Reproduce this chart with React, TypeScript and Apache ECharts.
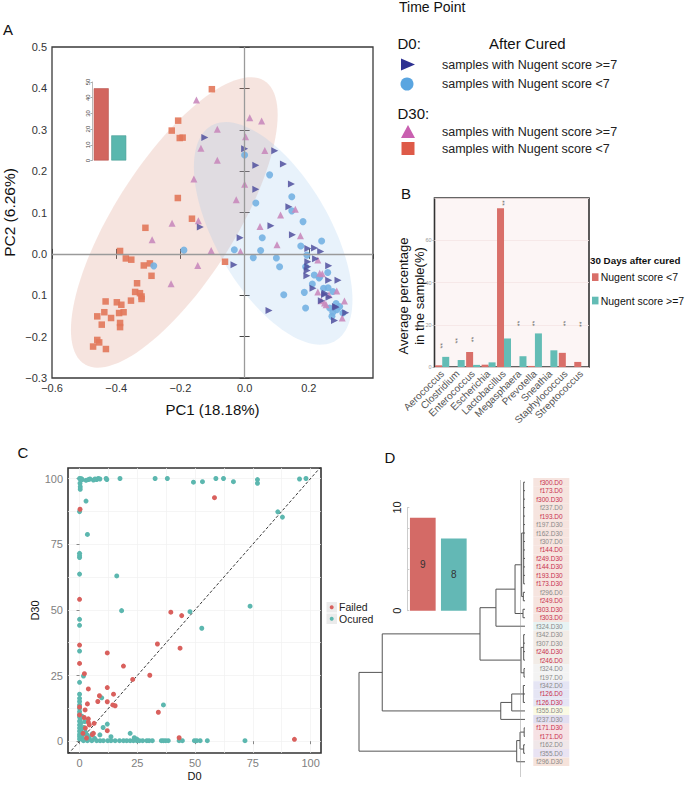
import React, { useEffect, useRef } from 'react';
import * as echarts from 'echarts';

const FONT = '"Liberation Sans", Arial, Helvetica, sans-serif';

// ---------- Panel A: PCA scores ----------
const d0Above7: number[][] = [
  [-0.124, 0.281], [0.0, 0.254], [0.094, 0.249], [0.035, 0.214], [0.121, 0.217], [0.035, 0.156],
  [0.146, 0.169], [0.138, 0.114], [0.082, 0.068], [0.149, 0.046], [-0.138, 0.065], [-0.014, 0.039],
  [0.197, 0.013], [0.218, 0.014], [0.237, 0.006], [0.221, -0.012], [-0.033, -0.026], [0.197, -0.031],
  [0.195, -0.04], [0.262, -0.029], [0.291, -0.064], [0.262, -0.064], [0.213, -0.083], [0.251, -0.095],
  [0.283, -0.127], [0.315, -0.142], [0.076, -0.137], [0.197, -0.019], [0.194, -0.053], [0.263, -0.105],
  [0.239, -0.113], [0.28, -0.161], [0.285, -0.129], [0.249, -0.098],
];
const d0Below7: number[][] = [
  [0.0, 0.239], [0.078, 0.191], [0.035, 0.123], [0.147, 0.138], [0.147, 0.104], [0.182, 0.078],
  [0.055, 0.039], [0.24, 0.031], [0.175, 0.019], [-0.189, 0.009], [-0.283, -0.029], [-0.032, 0.01],
  [0.05, 0.008], [0.027, -0.009], [0.099, -0.01], [0.109, -0.031], [0.194, -0.003], [0.19, -0.031],
  [0.217, -0.051], [0.259, -0.045], [0.234, -0.056], [0.211, -0.073], [0.246, -0.083], [0.122, -0.099],
  [0.186, -0.093], [0.19, -0.131], [0.275, -0.091], [0.296, -0.127], [0.275, -0.141], [0.265, -0.131],
  [0.272, -0.151], [0.287, -0.135], [0.306, -0.143], [0.26, -0.082], [0.232, -0.058], [0.285, -0.12],
];
const d30Above7: number[][] = [
  [-0.15, 0.372], [-0.085, 0.301], [-0.136, 0.255], [-0.085, 0.226], [0.016, 0.329], [0.053, 0.321],
  [0.003, 0.283], [0.063, 0.25], [-0.158, 0.181], [0.0, 0.168], [-0.026, 0.131], [-0.144, 0.08],
  [-0.226, 0.074], [-0.288, 0.034], [-0.104, 0.008], [-0.013, 0.006], [-0.146, -0.028], [-0.229, -0.072],
  [0.048, 0.066], [0.101, 0.022], [0.112, 0.094], [0.158, 0.108], [0.174, 0.044], [0.228, -0.015],
  [0.242, -0.048], [0.228, -0.092], [0.263, -0.099], [0.287, -0.09], [0.239, -0.113], [0.254, -0.123],
  [0.311, -0.114], [0.304, -0.155], [0.234, -0.047], [0.249, -0.119],
];
const d30Below7: number[][] = [
  [-0.102, 0.398], [-0.207, 0.322], [-0.227, 0.298], [-0.202, 0.28], [-0.193, 0.281], [-0.208, 0.135],
  [-0.164, 0.085], [-0.309, 0.063], [-0.388, 0.007], [-0.37, -0.011], [-0.353, -0.014], [-0.314, -0.028],
  [-0.295, -0.023], [-0.29, -0.053], [-0.061, -0.019], [-0.335, -0.071], [-0.341, -0.092], [-0.326, -0.095],
  [-0.321, -0.103], [-0.321, -0.109], [-0.354, -0.113], [-0.433, -0.115], [-0.398, -0.117], [-0.384, -0.123],
  [-0.437, -0.141], [-0.391, -0.143], [-0.377, -0.141], [-0.459, -0.151], [-0.416, -0.155], [-0.445, -0.171],
  [-0.388, -0.167], [-0.388, -0.177], [-0.459, -0.208], [-0.453, -0.214], [-0.472, -0.224], [-0.432, -0.23],
];
// confidence ellipses: [centre x, centre y, half-extent x, half-extent y, correlation]
const ellipseD30 = [-0.219, 0.076, 0.322, 0.351, 0.74];
const ellipseD0 = [0.089, 0.0495, 0.247, 0.269, -0.596];
const ellipseFills = ['rgba(220,150,130,0.26)', 'rgba(140,190,235,0.2)'];

const insetACategories = ['Nugent score <7', 'Nugent score >=7'];
const insetAValues = [46, 16];

// ---------- Panel B: genera ----------
const genera = ['Aerococcus', 'Clostridium', 'Enterococcus', 'Escherichia', 'Lactobacillus',
  'Megasphaera', 'Prevotella', 'Sneathia', 'Staphylococcus', 'Streptococcus'];
const nugentBelow7 = [0.8, 0, 7.1, 1.1, 75.2, 0, 0.5, 0, 6.7, 2.4];
const nugentAbove7 = [4.8, 3.3, 1.0, 2.2, 13.5, 5.1, 15.9, 7.9, 0, 0];
const significance: (string | number)[][] = [
  ['Aerococcus', 10], ['Clostridium', 12.4], ['Enterococcus', 13], ['Lactobacillus', 77.6],
  ['Megasphaera', 20.6], ['Prevotella', 20.6], ['Staphylococcus', 20.6], ['Streptococcus', 20.2],
];

// ---------- Panel C: D0 vs D30 ----------
const failedPoints: number[][] = [
  [58.4, 92.7], [0.2, 88.3], [0, 54], [39.5, 49.1], [44.2, 47.8], [33.7, 37], [43.5, 35.4], [12, 33.6],
  [0, 36.6], [0, 29.6], [19, 28.6], [30.4, 25.1], [2.1, 25.7], [23, 23.5], [12, 20.4], [3.8, 19.9],
  [8.6, 17.3], [14.7, 17.9], [7.9, 15.1], [12, 15], [14.4, 13.8], [15.4, 13.5], [3.4, 14.2], [2.4, 11.9],
  [34.1, 11], [3.8, 8.5], [3.8, 7.2], [6.3, 6.8], [4.2, 6.2], [12, 4], [6, 3], [43.1, 1.3], [93, 0.7],
  [2.5, 5], [1.5, 3], [5.5, 2.5], [3, 1.2], [0, 13], [0, 10], [2, 9],
];
const ocuredPoints: number[][] = [
  [0, 100], [0.5, 99.8], [0.8, 99.9], [1.2, 99.6], [2.8, 99.3], [3.8, 99.6], [4.5, 99.8], [6, 99.4],
  [6.7, 99.8], [7.4, 99.6], [8.1, 100], [8.8, 99.8], [11.5, 100], [11.8, 99.6], [17.5, 100], [32.7, 100],
  [38, 100], [49.3, 98.6], [53.2, 98.8], [59, 100], [62.3, 100], [66.6, 98.8], [77, 99.6], [77, 98.2],
  [95.2, 99.8], [98, 100],
  [0.2, 98.2], [0.3, 96.9], [0.3, 95.9], [0, 87.4], [2.8, 91.4], [3.4, 78.7], [0, 71.5], [0, 70.6],
  [0, 69.9], [0, 63.6], [16.1, 62.9], [18.2, 49.7], [0, 46.4], [0, 44.1], [0, 34.3], [1.7, 24.8],
  [0, 22.4], [0, 17.9], [0, 16.3], [0, 15.1], [0, 13.8], [0, 12.5], [0, 11.2], [9.6, 16.5], [0, 10.1],
  [0, 9.2], [0.3, 8.4], [0, 7.6], [0.6, 6.9], [0, 6.2], [0.4, 5.6], [0, 5], [0.8, 4.4], [0, 3.8],
  [0.5, 3.2], [0, 2.6], [1.2, 2.2], [0, 1.8], [0.6, 1.3], [0, 0.8], [1.5, 0.6], [2.2, 7.5], [1.8, 5.2],
  [2.6, 3.4], [3.4, 2.3], [4.2, 1.2], [5.5, 2.8], [1, 9.5], [12, 6.5], [10.2, 5.2], [21.9, 3], [6.5, 1.1],
  [8.8, 2.4], [13.6, 1.7], [23.7, 1.3], [24.8, 0.8],
  [85.8, 87.3], [87.8, 85.3], [73.8, 51.4], [47.8, 49.3], [52.9, 43], [36.3, 13.8],
  [1.7, 0.2], [3.4, 0.2], [5.3, 0.2], [7.4, 0.2], [8.9, 0.2], [10.3, 0.2], [12.2, 0.2], [13.6, 0.2],
  [15.4, 0.2], [17.3, 0.2], [19, 0.2], [20.4, 0.2], [21.9, 0.2], [23.3, 0.2], [24.8, 0.2], [25.9, 0.2],
  [27.3, 0.2], [29.1, 0.2], [30.1, 0.2], [31.5, 0.2], [35.4, 0.2], [36.3, 0.2], [37.3, 0.2], [38.4, 0.2],
  [43.1, 0.2], [44.5, 0.2], [49.7, 0.2], [50.7, 0.2], [52.2, 0.2], [55.3, 0.2], [71.6, 0.2],
];
const scatterTicks = [0, 25, 50, 75, 100];
const scatterGridValues = [0, 12.5, 25, 37.5, 50, 62.5, 75, 87.5, 100];
const diagonalRange = [-5, 105];

// ---------- Panel D: clustering ----------
const clusterCategories = ['Failed', 'Ocured'];
const clusterCounts = [9, 7];
const clusterCountLabels = ['9', '8'];
const leafLabels = [
  'f300.D0', 'f173.D0', 'f300.D30', 'f237.D0', 'f193.D0', 'f197.D30', 'f162.D30', 'f307.D0', 'f144.D0',
  'f249.D30', 'f144.D30', 'f193.D30', 'f173.D30', 'f296.D0', 'f249.D0', 'f303.D30', 'f303.D0', 'f324.D30',
  'f342.D30', 'f307.D30', 'f246.D30', 'f246.D0', 'f324.D0', 'f197.D0', 'f342.D0', 'f126.D0', 'f126.D30',
  'f355.D30', 'f237.D30', 'f171.D30', 'f171.D0', 'f162.D0', 'f355.D0', 'f296.D30',
];
const leafFailed = [1, 1, 1, 0, 1, 0, 0, 0, 1, 1, 1, 1, 1, 0, 1, 1, 1, 0, 0, 0, 1, 1, 0, 0, 0, 1, 1, 0, 0, 1, 1, 0, 0, 0];
const leafBand = [0, 0, 0, 0, 0, 0, 0, 0, 0, 0, 0, 0, 0, 0, 0, 0, 0, 1, 2, 2, 2, 2, 3, 3, 4, 4, 4, 5, 6, 7, 7, 8, 9, 10];
const bandColors = ['#f6e4df', '#e7f3f3', '#f2ece7', '#f3f3f3', '#e5e5f4', '#fafae4', '#e2def0',
  '#f6e1e4', '#f0e7e9', '#e9e3f3', '#f6e3db'];
// merge tree: [height, ...children]; leaves are row indexes
const dendrogram: any = [1.0,
  [0.86,
    [0.271,
      [0.175,
        [0.06,
          [0.02, [0.008, 0, 1, 2, 3, 4, 5, 6, 7, 8, 9, 10, 11, 12], [0.01, 13, 14]],
          [0.012, 15, 16]],
        17],
      [0.024, [0.008, 18, 19, 20, 21], [0.006, 22, 23]]],
    [0.146, [0.08, [0.01, 24, 25, 26], 27], 28]],
  [0.05, [0.03, [0.005, 29, 30], [0.008, 31, 32]], 33]];
const cutHeight = 0.034;

function layoutTree(node: any, segs: number[][]): { y: number; h: number } {
  if (typeof node === 'number') return { y: node, h: 0 };
  const [h, ...kids] = node;
  const ls = kids.map((k: any) => layoutTree(k, segs));
  const ys = ls.map((l: any) => l.y);
  const y0 = Math.min(...ys);
  const y1 = Math.max(...ys);
  segs.push([h, y0, h, y1]);
  ls.forEach((l: any) => segs.push([h, l.y, l.h, l.y]));
  return { y: (y0 + y1) / 2, h };
}

const minus = (v: number, d: number) => {
  const s = Math.abs(v).toFixed(d);
  return v < -1e-9 ? '\u2212' + s : s;
};

export default function App() {
  const ref = useRef<HTMLDivElement>(null);
  useEffect(() => {
    if (!ref.current) return;
    const chart = echarts.init(ref.current, undefined, { renderer: 'svg' });
    const segs: number[][] = [];
    layoutTree(dendrogram, segs);

    const redA = '#d2665f';
    const tealA = '#5ab7ae';
    const solid = (color: string, opacity = 1) => ({ color, opacity, borderWidth: 0 });

    const option: any = {
      animation: false,
      backgroundColor: '#ffffff',
      textStyle: { fontFamily: FONT },
      grid: [
        { left: 52, top: 47, width: 321, height: 331, show: true, borderColor: '#3a3a3a', borderWidth: 1.3, backgroundColor: 'transparent' },
        { left: 92.5, top: 82, width: 35, height: 78.5 },
        { left: 434.5, top: 198, width: 154.5, height: 169, show: true, backgroundColor: '#fcf5f5', borderColor: '#333', borderWidth: 1.6 },
        { left: 68, top: 468, width: 253, height: 285, show: true, borderColor: '#333', borderWidth: 1.6, backgroundColor: '#fff' },
        { left: 407.3, top: 507.4, width: 62, height: 103.3 },
        { left: 359, top: 480.5, width: 166, height: 296.5 },
      ],
      xAxis: [
        {
          gridIndex: 0, type: 'value', min: -0.6, max: 0.4, interval: 0.2, position: 'bottom',
          axisLine: { show: false }, splitLine: { show: false },
          axisTick: { inside: true, length: 5, lineStyle: { color: '#444' } },
          axisLabel: { formatter: (v: number) => minus(v, 1), showMaxLabel: false, fontSize: 11, color: '#333', margin: 4, fontFamily: FONT },
          name: 'PC1 (18.18%)', nameLocation: 'middle', nameGap: 24,
          nameTextStyle: { fontSize: 15, color: '#111', fontFamily: FONT },
        },
        {
          gridIndex: 0, type: 'value', min: -0.6, max: 0.4, interval: 0.2, position: 'top',
          axisLine: { show: false }, splitLine: { show: false }, axisLabel: { show: false },
          axisTick: { inside: true, length: 5, lineStyle: { color: '#444' } },
        },
        { gridIndex: 1, type: 'category', data: insetACategories, show: false },
        {
          gridIndex: 2, type: 'category', data: genera,
          axisLine: { show: false },
          axisTick: { alignWithLabel: true, length: 3, lineStyle: { color: '#999' } },
          axisLabel: { rotate: 45, fontSize: 10, color: '#555', margin: 5, interval: 0, fontFamily: FONT },
        },
        {
          gridIndex: 3, type: 'value', min: -5, max: 104.5,
          axisLine: { show: false }, splitLine: { show: false },
          axisTick: { show: true, length: 3, customValues: scatterTicks, lineStyle: { color: '#888' } },
          axisLabel: { customValues: scatterTicks, fontSize: 11, color: '#808080', margin: 4, fontFamily: FONT },
          name: 'D0', nameLocation: 'middle', nameGap: 17.5,
          nameTextStyle: { fontSize: 11, color: '#111', fontFamily: FONT },
        },
        { gridIndex: 4, type: 'category', data: clusterCategories, show: false },
        { gridIndex: 5, type: 'value', min: 0, max: 1, inverse: true, show: false },
      ],
      yAxis: [
        {
          gridIndex: 0, type: 'value', min: -0.3, max: 0.5, interval: 0.1, position: 'left',
          axisLine: { show: false }, splitLine: { show: false },
          axisTick: { inside: true, length: 5, lineStyle: { color: '#444' } },
          axisLabel: {
            formatter: (v: number) => (Math.abs(v + 0.1) < 1e-6 ? '0.1' : minus(v, 1)),
            fontSize: 11, color: '#333', margin: 5, fontFamily: FONT,
          },
          name: 'PC2 (6.26%)', nameLocation: 'middle', nameGap: 35,
          nameTextStyle: { fontSize: 15.5, color: '#111', fontFamily: FONT },
        },
        {
          gridIndex: 0, type: 'value', min: -0.3, max: 0.5, interval: 0.1, position: 'right',
          axisLine: { show: false }, splitLine: { show: false }, axisLabel: { show: false },
          axisTick: { inside: true, length: 5, lineStyle: { color: '#444' } },
        },
        {
          gridIndex: 1, type: 'value', min: 0, max: 50, interval: 10,
          axisLine: { show: true, lineStyle: { color: '#aaa', width: 0.8 } },
          axisTick: { show: true, length: 2, lineStyle: { color: '#aaa' } },
          splitLine: { show: false },
          axisLabel: { rotate: 90, fontSize: 6, color: '#444', margin: 2, fontFamily: FONT },
        },
        {
          gridIndex: 2, type: 'value', min: 0, max: 80, interval: 20,
          axisLine: { show: false },
          axisTick: { show: true, length: 2, lineStyle: { color: '#aaa' } },
          splitLine: { show: true, lineStyle: { color: '#f4e4e4', width: 0.8 } },
          axisLabel: { fontSize: 5.5, color: '#999', margin: 3, showMaxLabel: false, fontFamily: FONT },
        },
        {
          gridIndex: 3, type: 'value', min: -4.5, max: 104,
          axisLine: { show: false }, splitLine: { show: false },
          axisTick: { show: true, length: 3, customValues: scatterTicks, lineStyle: { color: '#888' } },
          axisLabel: { customValues: scatterTicks, fontSize: 11, color: '#808080', margin: 5, fontFamily: FONT },
          name: 'D30', nameLocation: 'middle', nameGap: 20,
          nameTextStyle: { fontSize: 11, color: '#111', fontFamily: FONT },
        },
        {
          gridIndex: 4, type: 'value', min: 0, max: 10, interval: 2,
          axisLine: { show: true, lineStyle: { color: '#ccc', width: 1 } },
          axisTick: { show: true, inside: true, length: 2, lineStyle: { color: '#ccc' } },
          splitLine: { show: false },
          axisLabel: {
            rotate: 90, fontSize: 11, color: '#222', margin: 5, fontFamily: FONT,
            formatter: (v: number) => (v === 0 || v === 10 ? String(v) : ''),
          },
        },
        { gridIndex: 5, type: 'value', min: -0.2, max: 34.8, inverse: true, show: false },
      ],
      series: [
        // Panel A ellipses + zero lines
        {
          type: 'custom', xAxisIndex: 0, yAxisIndex: 0, clip: true, z: 1,
          data: [ellipseD30, ellipseD0],
          renderItem: (params: any, api: any) => {
            const cx = api.value(0), cy = api.value(1), rx = api.value(2), ry = api.value(3), rho = api.value(4);
            const s = Math.sqrt(1 - rho * rho);
            const pts: number[][] = [];
            for (let k = 0; k < 120; k++) {
              const t = (k / 120) * Math.PI * 2;
              pts.push(api.coord([cx + rx * Math.cos(t), cy + ry * (rho * Math.cos(t) + s * Math.sin(t))]));
            }
            return { type: 'polygon', shape: { points: pts }, style: { fill: ellipseFills[params.dataIndex] } };
          },
          markLine: {
            silent: true, symbol: 'none', label: { show: false },
            lineStyle: { color: '#9a9a9a', width: 1.3, type: 'solid' },
            data: [{ xAxis: 0 }, { yAxis: 0 }],
          },
        },
        {
          name: 'D30 Nugent <7', type: 'scatter', xAxisIndex: 0, yAxisIndex: 0, z: 3,
          symbol: 'rect', symbolSize: 6.5, data: d30Below7,
          itemStyle: solid('#e2775a', 0.9),
        },
        {
          name: 'D0 Nugent <7', type: 'scatter', xAxisIndex: 0, yAxisIndex: 0, z: 3,
          symbol: 'circle', symbolSize: 7, data: d0Below7,
          itemStyle: solid('#74b1e2', 0.9),
        },
        {
          name: 'D30 Nugent >=7', type: 'scatter', xAxisIndex: 0, yAxisIndex: 0, z: 3,
          symbol: 'triangle', symbolSize: 7, data: d30Above7,
          itemStyle: solid('#c98abd', 0.9),
        },
        {
          name: 'D0 Nugent >=7', type: 'scatter', xAxisIndex: 0, yAxisIndex: 0, z: 3,
          symbol: 'triangle', symbolRotate: -90, symbolSize: 7, data: d0Above7,
          itemStyle: solid('#50509e', 0.85),
        },
        // Panel A inset
        {
          type: 'bar', xAxisIndex: 2, yAxisIndex: 2, barWidth: 15,
          data: insetAValues.map((v, i) => ({ value: v, itemStyle: { color: i === 0 ? redA : tealA, borderColor: i === 0 ? '#b85650' : '#4a9d95', borderWidth: 0.6 } })),
        },
        // Panel B
        {
          name: 'Nugent score <7', type: 'bar', xAxisIndex: 3, yAxisIndex: 3, barWidth: 7, barGap: '0%',
          data: nugentBelow7, itemStyle: { color: '#d96f69' },
        },
        {
          name: 'Nugent score >=7', type: 'bar', xAxisIndex: 3, yAxisIndex: 3, barWidth: 7, barGap: '0%',
          data: nugentAbove7, itemStyle: { color: '#63bcb5' },
        },
        {
          type: 'scatter', xAxisIndex: 3, yAxisIndex: 3, symbol: 'circle', symbolSize: 0.1, z: 5,
          itemStyle: { color: 'transparent', borderWidth: 0 }, data: significance,
          label: { show: true, position: 'inside', formatter: '**', rotate: 90, fontSize: 7, color: '#444', fontFamily: FONT },
        },
        // Panel C
        {
          type: 'line', xAxisIndex: 4, yAxisIndex: 4, symbol: 'none', z: 2, clip: true,
          data: [[diagonalRange[0], diagonalRange[0]], [diagonalRange[1], diagonalRange[1]]],
          lineStyle: { color: '#222', width: 0.9, type: [3, 2] },
          markLine: {
            silent: true, symbol: 'none', label: { show: false }, z: 0,
            lineStyle: { color: '#f0f0f0', width: 0.7, type: 'solid' },
            data: [
              ...scatterGridValues.map((v) => ({ xAxis: v })),
              ...scatterGridValues.map((v) => ({ yAxis: v })),
            ],
          },
        },
        {
          name: 'Ocured', type: 'scatter', xAxisIndex: 4, yAxisIndex: 4, z: 3,
          symbolSize: 5, data: ocuredPoints, itemStyle: solid('#5cb7af'),
        },
        {
          name: 'Failed', type: 'scatter', xAxisIndex: 4, yAxisIndex: 4, z: 4,
          symbolSize: 5, data: failedPoints, itemStyle: solid('#d9605d'),
        },
        // Panel D inset
        {
          type: 'bar', xAxisIndex: 5, yAxisIndex: 5, barWidth: 25.7,
          data: clusterCounts.map((v, i) => ({ value: v, itemStyle: { color: i === 0 ? '#d46a66' : '#63b8b5' } })),
          label: {
            show: true, position: 'inside', fontSize: 10, color: '#333', fontFamily: FONT,
            formatter: (p: any) => clusterCountLabels[p.dataIndex],
          },
        },
        // Panel D dendrogram
        {
          type: 'custom', xAxisIndex: 6, yAxisIndex: 6, clip: false, z: 2,
          data: segs,
          renderItem: (params: any, api: any) => {
            const a = api.coord([api.value(0), api.value(1)]);
            const b = api.coord([api.value(2), api.value(3)]);
            return {
              type: 'line', shape: { x1: a[0], y1: a[1], x2: b[0], y2: b[1] },
              style: { stroke: '#555', lineWidth: 1 },
            };
          },
          markLine: {
            silent: true, symbol: 'none', label: { show: false },
            lineStyle: { color: '#999', width: 1, type: 'dotted' },
            data: [{ xAxis: cutHeight }],
          },
        },
        {
          type: 'custom', xAxisIndex: 6, yAxisIndex: 6, clip: false, z: 1,
          data: leafLabels.map((_, i) => [0, i]),
          renderItem: (params: any, api: any) => {
            const i = params.dataIndex;
            const p = api.coord([0, i]);
            return {
              type: 'group',
              children: [
                { type: 'rect', shape: { x: p[0] + 8.3, y: p[1] - 4.3, width: 36, height: 8.6 }, style: { fill: bandColors[leafBand[i]] } },
                {
                  type: 'text',
                  style: {
                    text: leafLabels[i], x: p[0] + 37.7, y: p[1], align: 'right', verticalAlign: 'middle',
                    fill: leafFailed[i] ? '#c8304e' : '#8a8a8a', fontSize: 6.5, fontFamily: FONT,
                  },
                },
              ],
            };
          },
        },
      ],
      graphic: [
        // panel letters
        { type: 'text', x: 8, y: 29, style: { text: 'A', fontSize: 15, fill: '#111', align: 'center', verticalAlign: 'middle', fontFamily: FONT } },
        { type: 'text', x: 406, y: 193, style: { text: 'B', fontSize: 15, fill: '#111', align: 'center', verticalAlign: 'middle', fontFamily: FONT } },
        { type: 'text', x: 23, y: 452, style: { text: 'C', fontSize: 15, fill: '#111', align: 'center', verticalAlign: 'middle', fontFamily: FONT } },
        { type: 'text', x: 390, y: 457, style: { text: 'D', fontSize: 15, fill: '#111', align: 'center', verticalAlign: 'middle', fontFamily: FONT } },
        // panel A legend
        { type: 'text', x: 399, y: 7, style: { text: 'Time Point', fontSize: 14, fill: '#111', align: 'left', verticalAlign: 'middle', fontFamily: FONT } },
        { type: 'text', x: 397.5, y: 43, style: { text: 'D0:', fontSize: 15, fill: '#111', align: 'left', verticalAlign: 'middle', fontFamily: FONT } },
        { type: 'text', x: 489, y: 43, style: { text: 'After Cured', fontSize: 15, fill: '#111', align: 'left', verticalAlign: 'middle', fontFamily: FONT } },
        { type: 'polygon', shape: { points: [[401, 58.5], [415, 64.5], [401, 70.5]] }, style: { fill: '#2e3192' } },
        { type: 'text', x: 442, y: 65, style: { text: 'samples with Nugent score >=7', fontSize: 12.5, fill: '#222', align: 'left', verticalAlign: 'middle', fontFamily: FONT } },
        { type: 'circle', shape: { cx: 407, cy: 84, r: 6.5 }, style: { fill: '#5aa5e0' } },
        { type: 'text', x: 442, y: 84, style: { text: 'samples with Nugent score <7', fontSize: 12.5, fill: '#222', align: 'left', verticalAlign: 'middle', fontFamily: FONT } },
        { type: 'text', x: 397.5, y: 113, style: { text: 'D30:', fontSize: 15, fill: '#111', align: 'left', verticalAlign: 'middle', fontFamily: FONT } },
        { type: 'polygon', shape: { points: [[401, 138], [408, 125], [415, 138]] }, style: { fill: '#c960b0' } },
        { type: 'text', x: 442, y: 132, style: { text: 'samples with Nugent score >=7', fontSize: 12.5, fill: '#222', align: 'left', verticalAlign: 'middle', fontFamily: FONT } },
        { type: 'rect', shape: { x: 401.5, y: 142, width: 13, height: 13 }, style: { fill: '#de5a48' } },
        { type: 'text', x: 442, y: 148.5, style: { text: 'samples with Nugent score <7', fontSize: 12.5, fill: '#222', align: 'left', verticalAlign: 'middle', fontFamily: FONT } },
        // panel B axis title + legend
        {
          type: 'text', x: 411.5, y: 296, rotation: Math.PI / 2,
          style: { text: 'Average percentage\nin the sample(%)', fontSize: 13, lineHeight: 16, fill: '#111', align: 'center', verticalAlign: 'middle', fontFamily: FONT },
        },
        { type: 'text', x: 590, y: 260, style: { text: '30 Days after cured', fontSize: 9.8, fontWeight: 'bold', fill: '#111', align: 'left', verticalAlign: 'middle', fontFamily: FONT } },
        { type: 'rect', shape: { x: 592, y: 273.3, width: 6.5, height: 7.7 }, style: { fill: '#d96f69' } },
        { type: 'text', x: 600.7, y: 277.3, style: { text: 'Nugent score <7', fontSize: 10.5, fill: '#111', align: 'left', verticalAlign: 'middle', fontFamily: FONT } },
        { type: 'rect', shape: { x: 592, y: 296.7, width: 6.5, height: 7.7 }, style: { fill: '#63bcb5' } },
        { type: 'text', x: 600.7, y: 300.7, style: { text: 'Nugent score >=7', fontSize: 10.5, fill: '#111', align: 'left', verticalAlign: 'middle', fontFamily: FONT } },
        // panel C legend
        { type: 'rect', shape: { x: 326.5, y: 602, width: 10.5, height: 10.5 }, style: { fill: '#ebebeb' } },
        { type: 'rect', shape: { x: 326.5, y: 613.5, width: 10.5, height: 10.5 }, style: { fill: '#ebebeb' } },
        { type: 'circle', shape: { cx: 331.7, cy: 607.3, r: 2 }, style: { fill: '#d9605d' } },
        { type: 'circle', shape: { cx: 331.7, cy: 618.7, r: 2 }, style: { fill: '#5cb7af' } },
        { type: 'text', x: 339, y: 607.3, style: { text: 'Failed', fontSize: 10.5, fill: '#222', align: 'left', verticalAlign: 'middle', fontFamily: FONT } },
        { type: 'text', x: 339, y: 618.7, style: { text: 'Ocured', fontSize: 10.5, fill: '#222', align: 'left', verticalAlign: 'middle', fontFamily: FONT } },
      ],
    };
    chart.setOption(option);
    return () => chart.dispose();
  }, []);
  return <div ref={ref} style={{ position: 'fixed', left: 0, top: 0, width: 685, height: 791, background: '#fff' }} />;
}
